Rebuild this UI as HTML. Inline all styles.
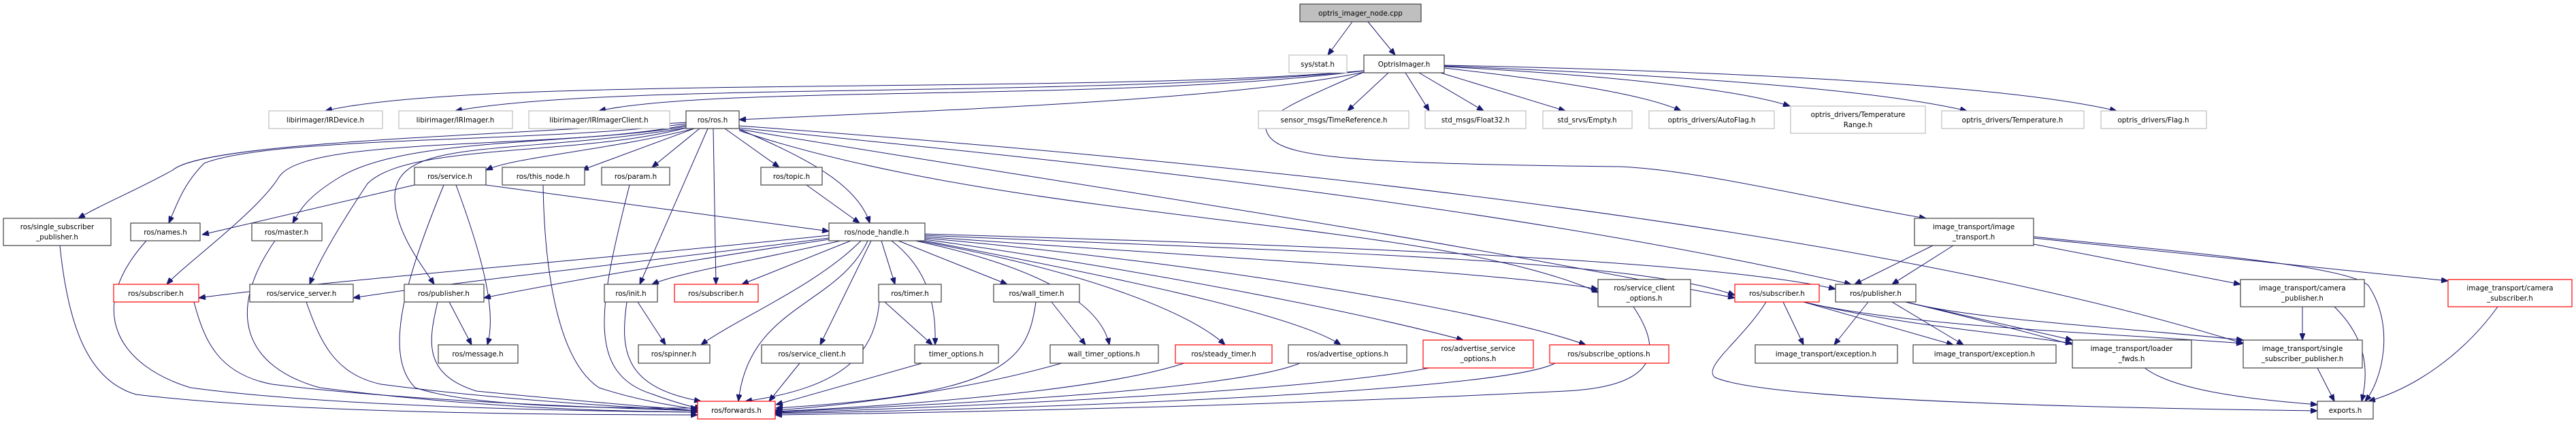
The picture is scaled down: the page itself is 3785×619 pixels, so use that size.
<!DOCTYPE html>
<html><head><meta charset="utf-8"><style>
html,body{margin:0;padding:0;background:#fff}
svg{display:block}
text{font-family:"DejaVu Sans","Liberation Sans",sans-serif;font-size:10.3px;fill:#000;text-anchor:middle}
.b{fill:#fff;stroke:#404040;stroke-width:1.2}
.g{fill:#fff;stroke:#bfbfbf;stroke-width:1.2}
.r{fill:#fff;stroke:#ff0000;stroke-width:1.2}
.e path{fill:none;stroke:#191970;stroke-width:1;marker-end:url(#a)}
</style></head><body>
<svg width="3785" height="619" viewBox="0 0 3785 619" xmlns="http://www.w3.org/2000/svg">
<defs><marker id="a" markerWidth="10" markerHeight="8" refX="10" refY="4" orient="auto" markerUnits="userSpaceOnUse"><path d="M0,0 L10,4 L0,8z" fill="#191970" stroke="#191970"/></marker></defs>
<g class="e">
<path d="M1987 32 L1951 81"/>
<path d="M2010 32 L2050 81"/>
<path d="M2004 104 C1600 140,700 110,478 163"/>
<path d="M2004 104 C1600 145,900 120,669 163"/>
<path d="M2004 104 C1650 150,1050 125,880 163"/>
<path d="M2004 106 C1800 150,1300 165,1086 176"/>
<path d="M2040 107 L1980 163"/>
<path d="M2065 107 L2100 163"/>
<path d="M2085 107 L2180 163"/>
<path d="M2110 105 L2300 163"/>
<path d="M2122 100 C2300 120,2420 140,2470 163"/>
<path d="M2122 98 C2350 110,2550 130,2630 156"/>
<path d="M2122 97 C2450 110,2750 130,2890 163"/>
<path d="M2122 96 C2550 105,2950 125,3110 163"/>
<path d="M2004 106 C1900 150,1860 170,1860 190 C1870 230,1950 240,2380 245 C2500 250,2700 300,2830 321"/>
<path d="M1008 180 C700 200,300 210,254 250 C200 280,150 300,115 321"/>
<path d="M1008 182 C800 210,400 200,300 240 C270 270,260 300,248 328"/>
<path d="M1008 184 C850 215,600 200,500 260 C450 290,440 310,430 328"/>
<path d="M1008 186 C800 220,450 200,410 260 C380 310,270 390,245 418"/>
<path d="M1008 188 C850 230,600 210,540 270 C500 330,470 380,455 418"/>
<path d="M1008 188 C750 230,580 200,580 290 C580 340,620 390,638 418"/>
<path d="M1020 189 C900 220,760 230,714 250"/>
<path d="M1020 189 L855 250"/>
<path d="M1028 189 L958 246"/>
<path d="M1040 189 L940 418"/>
<path d="M1048 189 L1052 418"/>
<path d="M1065 189 L1145 246"/>
<path d="M1086 190 C1180 230,1260 270,1278 328"/>
<path d="M1086 192 C1500 330,2100 320,2349 430"/>
<path d="M1086 190 C1500 260,2000 330,2549 438"/>
<path d="M1086 188 C1600 240,2200 300,2720 418"/>
<path d="M1086 185 C1700 230,2700 320,3296 505"/>
<path d="M609 272 L297 345"/>
<path d="M714 272 L1218 340"/>
<path d="M652 272 C600 400,560 520,610 570 C700 600,900 600,1025 600"/>
<path d="M670 272 C710 380,730 460,716 507"/>
<path d="M798 272 C800 400,820 530,880 570 C940 590,1000 598,1025 602"/>
<path d="M925 272 C880 450,860 550,960 580 C1000 595,1020 598,1030 602"/>
<path d="M1185 272 L1263 328"/>
<path d="M215 354 C120 460,180 540,280 570 C500 600,900 605,1025 606"/>
<path d="M404 354 C330 460,360 540,470 570 C700 600,900 605,1025 606"/>
<path d="M88 361 C100 480,130 560,200 580 C450 610,900 610,1025 610"/>
<path d="M1218 346 C900 380,500 410,292 438"/>
<path d="M1218 350 C950 385,700 410,519 438"/>
<path d="M1218 352 C1000 385,850 410,711 438"/>
<path d="M1235 354 C1100 385,1000 400,958 418"/>
<path d="M1250 354 L1090 418"/>
<path d="M1265 354 C1200 420,1080 470,1030 507"/>
<path d="M1275 354 C1230 450,1100 450,1085 590"/>
<path d="M1280 354 L1205 507"/>
<path d="M1295 354 L1315 418"/>
<path d="M1310 354 C1370 400,1375 460,1374 507"/>
<path d="M1320 354 L1480 418"/>
<path d="M1330 354 C1450 390,1430 450,1435 507" style="display:none"/>
<path d="M1345 354 C1560 400,1620 460,1630 507"/>
<path d="M1350 354 C1600 400,1750 460,1800 507"/>
<path d="M1359 354 C1600 400,1900 460,1970 507"/>
<path d="M1359 352 C1700 400,2000 460,2150 500"/>
<path d="M1359 350 C1800 390,2200 460,2330 507"/>
<path d="M1359 348 C1800 380,2200 400,2348 425"/>
<path d="M1359 346 C1900 370,2400 380,2549 434"/>
<path d="M1359 344 C1900 360,2500 380,2697 425"/>
<path d="M285 444 C300 500,320 550,400 565 C600 590,900 600,1025 604"/>
<path d="M450 444 C470 500,490 550,560 565 C750 590,950 600,1025 604"/>
<path d="M643 444 C630 500,620 550,700 575 C850 590,980 600,1025 604"/>
<path d="M921 444 C910 520,920 570,1030 590"/>
<path d="M937 444 L978 507"/>
<path d="M660 444 L693 507"/>
<path d="M1292 444 C1285 520,1240 570,1095 590"/>
<path d="M1300 444 L1370 507"/>
<path d="M1545 444 L1595 507"/>
<path d="M1522 444 C1510 530,1480 580,1140 600"/>
<path d="M1175 534 L1130 590"/>
<path d="M1355 534 L1140 595"/>
<path d="M1560 534 C1400 580,1200 600,1139 603"/>
<path d="M1740 534 C1600 580,1250 600,1139 605"/>
<path d="M1910 534 C1800 580,1250 600,1139 606"/>
<path d="M2100 541 C1900 580,1300 602,1139 607"/>
<path d="M2285 534 C2200 580,1400 604,1139 608"/>
<path d="M2400 451 C2460 540,2400 570,2300 575 C1800 600,1300 608,1139 610"/>
<path d="M2840 361 L2725 418"/>
<path d="M2870 361 L2780 418"/>
<path d="M2988 359 L3292 418"/>
<path d="M2988 350 L3597 413"/>
<path d="M2988 348 C3200 370,3450 390,3480 420 C3520 480,3500 560,3475 590"/>
<path d="M2595 444 C2560 500,2500 540,2520 555 C2600 590,3100 600,3405 604"/>
<path d="M2620 444 L2650 507"/>
<path d="M2650 444 L2870 507"/>
<path d="M2650 444 C2800 480,2950 490,3045 505"/>
<path d="M2650 444 C2800 480,3100 490,3296 505"/>
<path d="M2745 444 L2695 507"/>
<path d="M2780 444 L2885 507"/>
<path d="M2800 444 L3045 500"/>
<path d="M2800 444 C2900 470,3100 480,3296 500"/>
<path d="M2800 444 C2950 480,3100 520,3150 540 C3200 580,3350 590,3405 595"/>
<path d="M3383 451 L3383 500"/>
<path d="M3430 451 C3480 500,3480 550,3470 590"/>
<path d="M3670 451 C3620 520,3550 570,3480 590"/>
<path d="M3405 541 L3430 590"/>
</g>
<rect x="1910" y="6" width="178" height="26" fill="#bfbfbf" stroke="#404040" stroke-width="1.2"/><text x="1999" y="23">optris_imager_node.cpp</text>
<rect class="g" x="1894" y="81" width="85" height="26"/><text x="1936" y="98">sys/stat.h</text>
<rect class="b" x="2004" y="81" width="118" height="26"/><text x="2063" y="98">OptrisImager.h</text>
<rect class="g" x="395" y="163" width="167" height="26"/><text x="478" y="180">libirimager/IRDevice.h</text>
<rect class="g" x="586" y="163" width="167" height="26"/><text x="669" y="180">libirimager/IRImager.h</text>
<rect class="g" x="777" y="163" width="207" height="26"/><text x="880" y="180">libirimager/IRImagerClient.h</text>
<rect class="b" x="1008" y="163" width="78" height="26"/><text x="1047" y="180">ros/ros.h</text>
<rect class="g" x="1849" y="163" width="221" height="26"/><text x="1960" y="180">sensor_msgs/TimeReference.h</text>
<rect class="g" x="2094" y="163" width="148" height="26"/><text x="2168" y="180">std_msgs/Float32.h</text>
<rect class="g" x="2267" y="163" width="131" height="26"/><text x="2332" y="180">std_srvs/Empty.h</text>
<rect class="g" x="2423" y="163" width="184" height="26"/><text x="2515" y="180">optris_drivers/AutoFlag.h</text>
<rect class="g" x="2631" y="156" width="198" height="40"/><text x="2730" y="172">optris_drivers/Temperature</text><text x="2730" y="187">Range.h</text>
<rect class="g" x="2853" y="163" width="209" height="26"/><text x="2957" y="180">optris_drivers/Temperature.h</text>
<rect class="g" x="3087" y="163" width="155" height="26"/><text x="3164" y="180">optris_drivers/Flag.h</text>
<rect class="b" x="609" y="246" width="105" height="26"/><text x="661" y="263">ros/service.h</text>
<rect class="b" x="738" y="246" width="121" height="26"/><text x="798" y="263">ros/this_node.h</text>
<rect class="b" x="884" y="246" width="100" height="26"/><text x="934" y="263">ros/param.h</text>
<rect class="b" x="1118" y="246" width="90" height="26"/><text x="1163" y="263">ros/topic.h</text>
<rect class="b" x="5" y="321" width="158" height="40"/><text x="84" y="337">ros/single_subscriber</text><text x="84" y="352">_publisher.h</text>
<rect class="b" x="192" y="328" width="102" height="26"/><text x="243" y="345">ros/names.h</text>
<rect class="b" x="370" y="328" width="103" height="26"/><text x="421" y="345">ros/master.h</text>
<rect class="b" x="1218" y="328" width="141" height="26"/><text x="1288" y="345">ros/node_handle.h</text>
<rect class="b" x="2813" y="321" width="175" height="40"/><text x="2900" y="337">image_transport/image</text><text x="2900" y="352">_transport.h</text>
<rect class="r" x="167" y="418" width="125" height="26"/><text x="229" y="435">ros/subscriber.h</text>
<rect class="b" x="367" y="418" width="152" height="26"/><text x="443" y="435">ros/service_server.h</text>
<rect class="b" x="594" y="418" width="117" height="26"/><text x="652" y="435">ros/publisher.h</text>
<rect class="b" x="888" y="418" width="78" height="26"/><text x="927" y="435">ros/init.h</text>
<rect class="r" x="991" y="418" width="123" height="26"/><text x="1052" y="435">ros/subscriber.h</text>
<rect class="b" x="1291" y="418" width="92" height="26"/><text x="1337" y="435">ros/timer.h</text>
<rect class="b" x="1460" y="418" width="126" height="26"/><text x="1523" y="435">ros/wall_timer.h</text>
<rect class="b" x="2348" y="411" width="136" height="40"/><text x="2416" y="427">ros/service_client</text><text x="2416" y="442">_options.h</text>
<rect class="r" x="2549" y="418" width="124" height="26"/><text x="2611" y="435">ros/subscriber.h</text>
<rect class="b" x="2697" y="418" width="118" height="26"/><text x="2756" y="435">ros/publisher.h</text>
<rect class="b" x="3292" y="411" width="182" height="40"/><text x="3383" y="427">image_transport/camera</text><text x="3383" y="442">_publisher.h</text>
<rect class="r" x="3597" y="411" width="182" height="40"/><text x="3688" y="427">image_transport/camera</text><text x="3688" y="442">_subscriber.h</text>
<rect class="b" x="644" y="507" width="117" height="27"/><text x="702" y="524">ros/message.h</text>
<rect class="b" x="938" y="507" width="105" height="27"/><text x="990" y="524">ros/spinner.h</text>
<rect class="b" x="1119" y="507" width="149" height="27"/><text x="1193" y="524">ros/service_client.h</text>
<rect class="b" x="1344" y="507" width="123" height="27"/><text x="1405" y="524">timer_options.h</text>
<rect class="b" x="1543" y="507" width="159" height="27"/><text x="1622" y="524">wall_timer_options.h</text>
<rect class="r" x="1727" y="507" width="142" height="27"/><text x="1798" y="524">ros/steady_timer.h</text>
<rect class="b" x="1893" y="507" width="174" height="27"/><text x="1980" y="524">ros/advertise_options.h</text>
<rect class="r" x="2091" y="500" width="162" height="41"/><text x="2172" y="516">ros/advertise_service</text><text x="2172" y="531">_options.h</text>
<rect class="r" x="2277" y="507" width="175" height="27"/><text x="2364" y="524">ros/subscribe_options.h</text>
<rect class="b" x="2579" y="507" width="209" height="27"/><text x="2683" y="524">image_transport/exception.h</text>
<rect class="b" x="2811" y="507" width="210" height="27"/><text x="2916" y="524">image_transport/exception.h</text>
<rect class="b" x="3045" y="500" width="175" height="41"/><text x="3132" y="516">image_transport/loader</text><text x="3132" y="531">_fwds.h</text>
<rect class="b" x="3296" y="500" width="175" height="41"/><text x="3383" y="516">image_transport/single</text><text x="3383" y="531">_subscriber_publisher.h</text>
<rect class="r" x="1025" y="590" width="114" height="26"/><text x="1082" y="607">ros/forwards.h</text>
<rect class="b" x="3405" y="590" width="82" height="26"/><text x="3446" y="607">exports.h</text>
</svg>
</body></html>
